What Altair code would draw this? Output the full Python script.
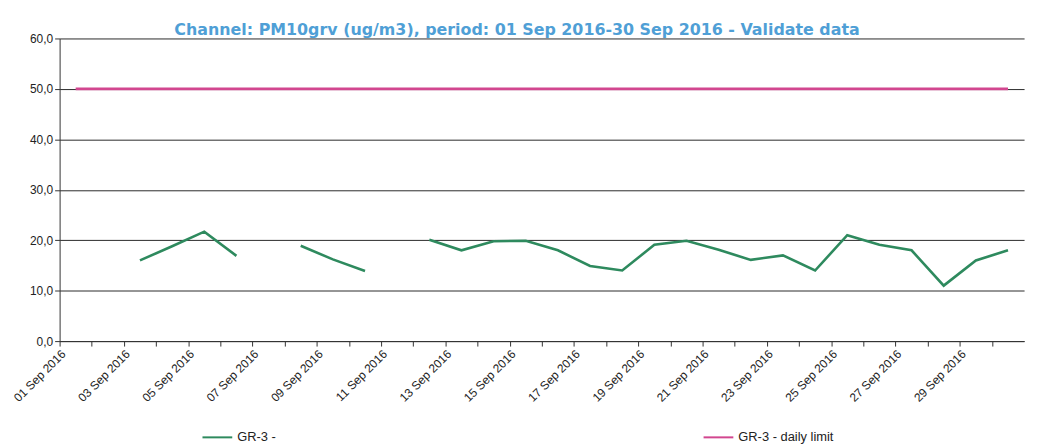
import altair as alt
import pandas as pd

# ---- data ----
days = list(range(1, 31))  # September 2016, daily averages (plotted at mid-day)
pm10 = [None, None, 16.0, 18.8, 21.7, 16.9, None, 18.9, 16.2, 13.9,
        None, 20.1, 18.0, 19.8, 19.9, 18.0, 14.9, 14.0, 19.1, 19.9,
        18.1, 16.1, 17.0, 14.0, 21.0, 19.1, 18.0, 11.0, 16.0, 18.0]
daily_limit = [50.0, 50.0, 50.0, 50.0, 50.0, 50.0, 50.0, 50.0, 50.0, 50.0,
               50.0, 50.0, 50.0, 50.0, 50.0, 50.0, 50.0, 50.0, 50.0, 50.0,
               50.0, 50.0, 50.0, 50.0, 50.0, 50.0, 50.0, 50.0, 50.0, 50.0]
series_names = ["GR-3 -", "GR-3 - daily limit"]
series_colors = ["#2e8a5e", "#d2468f"]
y_ticks = [0, 10, 20, 30, 40, 50, 60]
title_text = "Channel: PM10grv (ug/m3), period: 01 Sep 2016-30 Sep 2016 - Validate data"

rows = []
for d, v, lim in zip(days, pm10, daily_limit):
    date = f"2016-09-{d:02d}T12:00:00Z"
    rows.append({"date": date, "series": series_names[0], "value": v})
    rows.append({"date": date, "series": series_names[1], "value": lim})
df = pd.DataFrame(rows)

x_axis = alt.Axis(
    values=[alt.DateTime(year=2016, month=9, date=d, utc=True) for d in days],
    labelExpr="utcdate(datum.value) % 2 == 1 ? utcFormat(datum.value, '%d %b %Y') : ''",
    labelAngle=-45,
    labelOverlap=False,
    labelBound=False,
    labelFont="Liberation Sans",
    labelFontSize=12,
    labelColor="#222222",
    labelPadding=2,
    tickColor="#333333",
    tickSize=5,
    domainColor="#333333",
    grid=False,
    title=None,
)

y_axis = alt.Axis(
    values=y_ticks,
    labelExpr="replace(format(datum.value, '.1f'), '.', ',')",
    labelFont="Liberation Sans",
    labelFontSize=12,
    labelColor="#222222",
    tickColor="#333333",
    tickSize=5,
    domainColor="#333333",
    grid=True,
    gridColor="#2a2a2a",
    gridWidth=1,
    title=None,
)

legend = alt.Legend(
    orient="none",
    legendX=143,
    legendY=386,
    direction="horizontal",
    columns=2,
    columnPadding=427,
    symbolType="stroke",
    symbolSize=900,
    symbolStrokeWidth=2,
    labelFont="Liberation Sans",
    labelFontSize=13,
    labelColor="#222222",
    title=None,
)

chart = (
    alt.Chart(df)
    .mark_line(strokeWidth=2.6)
    .encode(
        x=alt.X(
            "date:T",
            scale=alt.Scale(
                type="utc",
                domain=[
                    alt.DateTime(year=2016, month=9, date=1, utc=True),
                    alt.DateTime(year=2016, month=10, date=1, utc=True),
                ],
            ),
            axis=x_axis,
        ),
        y=alt.Y("value:Q", scale=alt.Scale(domain=[0, 60], nice=False), axis=y_axis),
        color=alt.Color(
            "series:N",
            scale=alt.Scale(domain=series_names, range=series_colors),
            legend=legend,
        ),
    )
    .properties(
        width=972,
        height=305,
        background="white",
        autosize=alt.AutoSizeParams(type="none"),
        padding={"left": 52, "top": 29, "right": 10, "bottom": 104},
        title=alt.TitleParams(
            text=title_text,
            font="DejaVu Sans",
            fontSize=16,
            fontWeight="bold",
            color="#4f9fd6",
            anchor="middle",
            dx=-25,
            dy=9,
            offset=4,
        ),
    )
    .configure_view(stroke=None)
)

chart.save("out.html", embed_options={"renderer": "svg", "actions": False})
